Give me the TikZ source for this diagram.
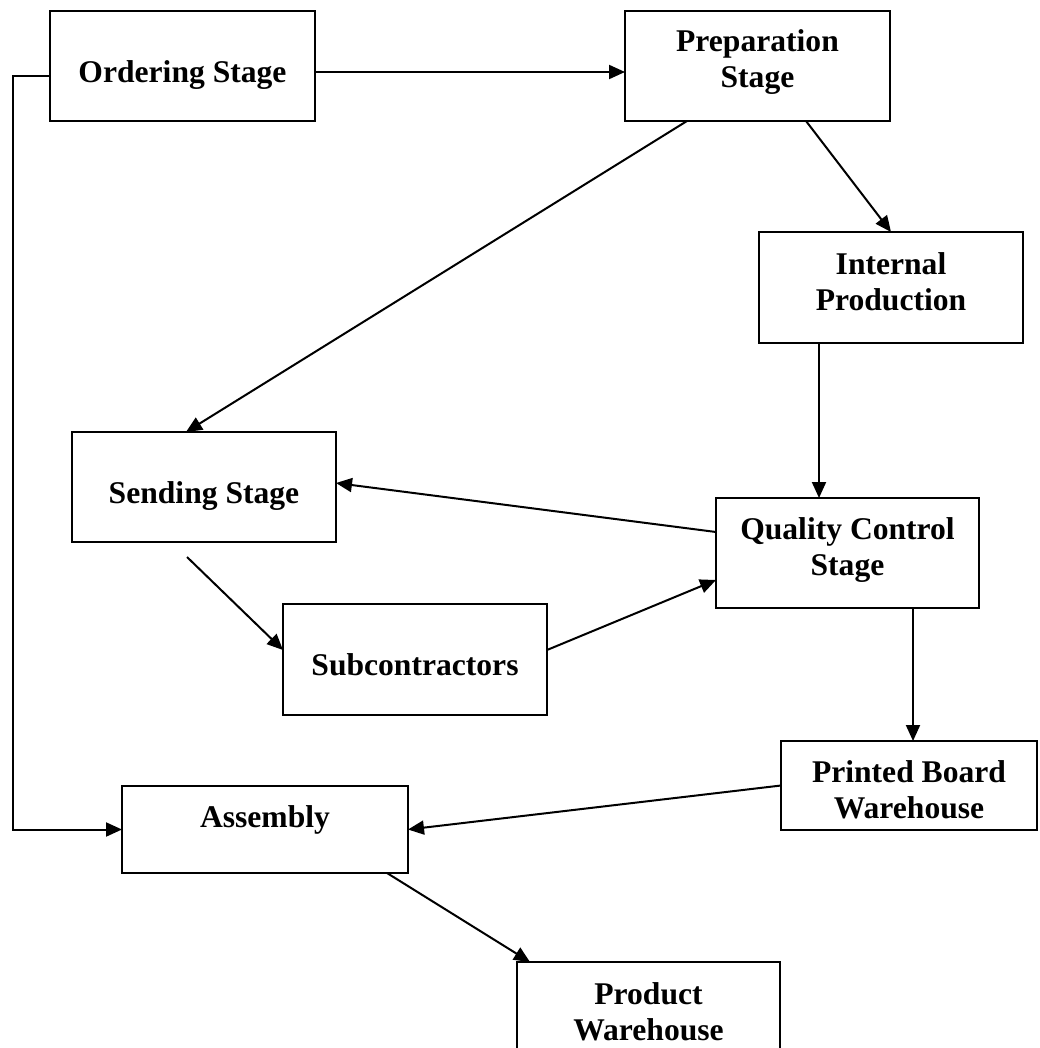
\documentclass[tikz,border=0pt]{standalone}
\usepackage{fontspec}
\setmainfont{Liberation Serif}
\usetikzlibrary{arrows.meta}
\begin{document}
\begin{tikzpicture}[x=0.5pt,y=-0.5pt,
  box/.style 2 args={draw, line width=1pt, inner sep=0pt, outer sep=0pt,
    anchor=north west, minimum width=#1*0.5pt, minimum height=#2*0.5pt},
  lbl/.style={anchor=base, align=center, inner sep=0pt,
    font=\fontsize{15.8pt}{18pt}\selectfont\bfseries},
  arr/.style={line width=1pt, -{Triangle[length=8pt,width=7pt]}},
]
\useasboundingbox (0,0) rectangle (1039,1048);

% boxes
\node[box={265}{110}] (ord)  at (50,11)   {};
\node[box={265}{110}] (prep) at (625,11)  {};
\node[box={264}{111}] (int)  at (759,232) {};
\node[box={264}{110}] (send) at (72,432)  {};
\node[box={263}{110}] (qc)   at (716,498) {};
\node[box={264}{111}] (subc) at (283,604) {};
\node[box={256}{89}]  (pbw)  at (781,741) {};
\node[box={286}{87}]  (asm)  at (122,786) {};
\node[box={263}{110}] (prod) at (517,962) {};

% labels (base = baseline of the last line)
\node[lbl] (ord-t)  at (ord.north  |- 0,83)   {Ordering Stage};
\node[lbl] (prep-t) at (prep.north |- 0,88)   {Preparation\\Stage};
\node[lbl] (int-t)  at (int.north  |- 0,310)  {Internal\\Production};
\node[lbl] (send-t) at (send.north |- 0,503)  {Sending Stage};
\node[lbl] (qc-t)   at (qc.north   |- 0,575)  {Quality Control\\Stage};
\node[lbl] (subc-t) at (subc.north |- 0,675)  {Subcontractors};
\node[lbl] (pbw-t)  at (pbw.north  |- 0,818)  {Printed Board\\Warehouse};
\node[lbl] (asm-t)  at (asm.north  |- 0,827)  {Assembly};
\node[lbl] (prod-t) at (prod.north |- 0,1040) {Product\\Warehouse};

% connectors
\draw[arr] ([yshift=-3pt]ord.east) -- ([yshift=-3pt]prep.west);
\draw[arr] ([yshift=-5pt]ord.west) -- ++(-18.5pt,0) |- (asm.west);
\draw[arr] ([xshift=31pt]prep.south west) -- ([xshift=57pt]send.north west);
\draw[arr] ([xshift=90.5pt]prep.south west) -- (int.north);
\draw[arr] ([xshift=30pt]int.south west) -- ([xshift=30pt]int.south west |- qc.north);
\draw[arr] ([yshift=-17pt]qc.north west) -- ([yshift=2pt]send.east);
\coordinate (sendout) at (187,557);
\draw[arr] (sendout) -- ([yshift=4.75pt]subc.west);
\draw[arr] ([yshift=4.75pt]subc.east) -- ([yshift=-13.5pt]qc.west);
\draw[arr] ([xshift=98.5pt]qc.south west) -- ([xshift=98.5pt]qc.south west |- pbw.north);
\draw[arr] (pbw.west) -- (asm.east);
\draw[arr] ([xshift=-10.5pt]asm.south east) -- ([xshift=6.5pt]prod.north west);
\end{tikzpicture}
\end{document}
